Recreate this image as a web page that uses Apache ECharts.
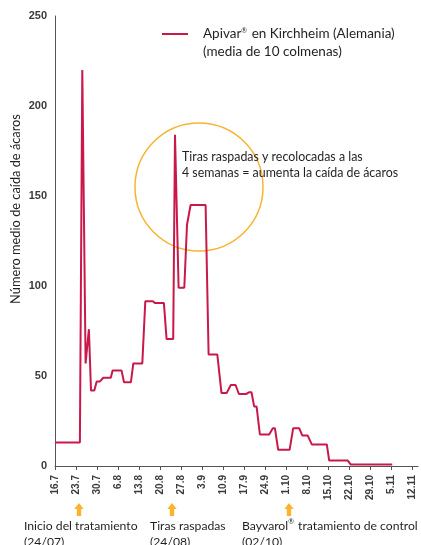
<!DOCTYPE html>
<html><head><meta charset="utf-8">
<script src="https://cdn.jsdelivr.net/npm/echarts@6/dist/echarts.min.js"></script>
<style>html,body{margin:0;padding:0;background:#fff}#c{width:421px;height:545px}</style>
</head><body><div id="c"></div>
<script>
// days since 16 July
const dayOffsets = [0, 8.3, 9.1, 10.2, 11.3, 12, 13.1, 13.9, 15, 16.1, 18.6, 19.2, 22.2, 23, 25.3, 26.1, 29.1,
  30.1, 32.6, 33.3, 36.3, 37.2, 39.4, 40, 41.2, 43.1, 44, 45.2, 50.2, 51.2, 54.1, 55.5, 57.2, 58.6, 60.2,
  61.3, 63.7, 64.8, 65.5, 66.4, 67.2, 68.3, 71.4, 72.6, 73.3, 74.4, 78.2, 79.4, 81.4, 82.4, 84.2, 85.6, 90.6,
  91.4, 97.6, 98.6, 112.4];
const miteCounts = [13, 13, 220, 57, 76, 42, 42, 47, 47, 49, 49, 53, 53, 46.5, 46.5, 57, 57,
  91.5, 91.5, 90.5, 90.5, 70.5, 70.5, 184, 99, 99, 134, 145, 145, 62, 62, 40.5, 40.5, 45, 45,
  40, 40, 41, 41, 33, 33, 17.5, 17.5, 21, 21, 9, 9, 21, 21, 17, 17, 12, 12,
  3, 3, 0.8, 0.8];
const tickDays = [0, 7, 14, 21, 28, 35, 42, 49, 56, 63, 70, 77, 84, 91, 98, 105, 112, 119];
const tickLabels = ['16.7','23.7','30.7','6.8','13.8','20.8','27.8','3.9','10.9','17.9','24.9','1.10','8.10','15.10','22.10','29.10','5.11','12.11'];
const eventDays = [8, 39, 78];
const eventTitles = ['Inicio del tratamiento', 'Tiras raspadas', 'Bayvarol® tratamiento de control'];
const eventDates = ['(24/07)', '(24/08)', '(02/10)'];
const seriesName = 'Apivar® en Kirchheim (Alemania)';
const seriesSub = '(media de 10 colmenas)';
const yName = 'Número medio de caída de ácaros';
const noteText = 'Tiras raspadas y recolocadas a las\n4 semanas = aumenta la caída de ácaros';

const TXT = 'Lato, "Open Sans", sans-serif';
const NUM = '"Liberation Sans", Arial, sans-serif';
const RED = '#c8194a';
const ORANGE = '#f8b431';
const INK = '#231f20';
const reg = s => s.replace('®', '{r|®}');
const richR = {r: {fontFamily: TXT, fontSize: 7, verticalAlign: 'top', padding: [0, 1, 6, 0], color: INK}};

const chart = echarts.init(document.getElementById('c'), null, {renderer: 'canvas'});
const lineData = dayOffsets.map((d, i) => [d, miteCounts[i]]);

chart.setOption({
  animation: false,
  grid: {left: 55, right: 3, top: 16, bottom: 79, containLabel: false},
  legend: {
    left: 162, top: 27, padding: 0, itemWidth: 26, itemHeight: 2, itemGap: 0,
    data: [{name: seriesName, icon: 'rect'}],
    formatter: n => reg(n),
    textStyle: {fontFamily: TXT, fontSize: 13.5, color: INK, padding: [0, 0, 0, 10], rich: richR}
  },
  xAxis: {
    type: 'value', min: 0, max: 121,
    splitLine: {show: false},
    axisLine: {lineStyle: {color: '#555', width: 1}},
    axisTick: {show: true, length: 4, lineStyle: {color: '#555'}, customValues: tickDays},
    axisLabel: {
      customValues: tickDays, rotate: 90, margin: 9,
      fontFamily: NUM, fontSize: 10, fontWeight: 'bold', color: '#3a3a3a',
      formatter: v => { const i = tickDays.indexOf(v); return i >= 0 ? tickLabels[i] : ''; }
    }
  },
  yAxis: {
    type: 'value', min: 0, max: 250, interval: 50,
    splitLine: {show: false},
    axisLine: {show: true, lineStyle: {color: '#555', width: 1}},
    axisTick: {show: false},
    axisLabel: {margin: 8, fontFamily: NUM, fontSize: 11, fontWeight: 'bold', color: '#3a3a3a'}
  },
  series: [{
    type: 'line', name: seriesName, data: lineData, symbol: 'none',
    lineStyle: {color: RED, width: 2}, itemStyle: {color: RED}
  }]
});

// annotations positioned from data coordinates
const cpt = chart.convertToPixel({gridIndex: 0}, [48, 155]);
const graphics = [
  {type: 'circle', shape: {cx: cpt[0], cy: cpt[1], r: 64}, style: {fill: 'none', stroke: ORANGE, lineWidth: 1.5}, z: 1},
  {type: 'text', x: 182, y: 149, style: {text: noteText, fontFamily: TXT, fontSize: 12.4, lineHeight: 16, fill: INK}, z: 10},
  {type: 'text', x: 203, y: 52, style: {text: seriesSub, fontFamily: TXT, fontSize: 13.5, fill: INK, verticalAlign: 'middle'}},
  {type: 'text', x: 16, y: 209, rotation: Math.PI / 2,
    style: {text: yName, fontFamily: TXT, fontSize: 12.8, fill: INK, align: 'center', verticalAlign: 'middle'}}
];
const textLeft = [24, 150, 242];
eventDays.forEach((d, i) => {
  const px = chart.convertToPixel({gridIndex: 0}, [d, 0])[0];
  graphics.push({type: 'polygon', shape: {points: [[px, 503], [px + 4.7, 509], [px + 2.2, 509], [px + 2.2, 516], [px - 2.2, 516], [px - 2.2, 509], [px - 4.7, 509]]},
    style: {fill: ORANGE}});
  graphics.push({type: 'text', x: textLeft[i], y: 518,
    style: {text: reg(eventTitles[i]) + '\n' + eventDates[i], fontFamily: TXT, fontSize: 12.2, lineHeight: 16, fill: INK, rich: richR}});
});
chart.setOption({graphic: graphics});
</script>
</body></html>
